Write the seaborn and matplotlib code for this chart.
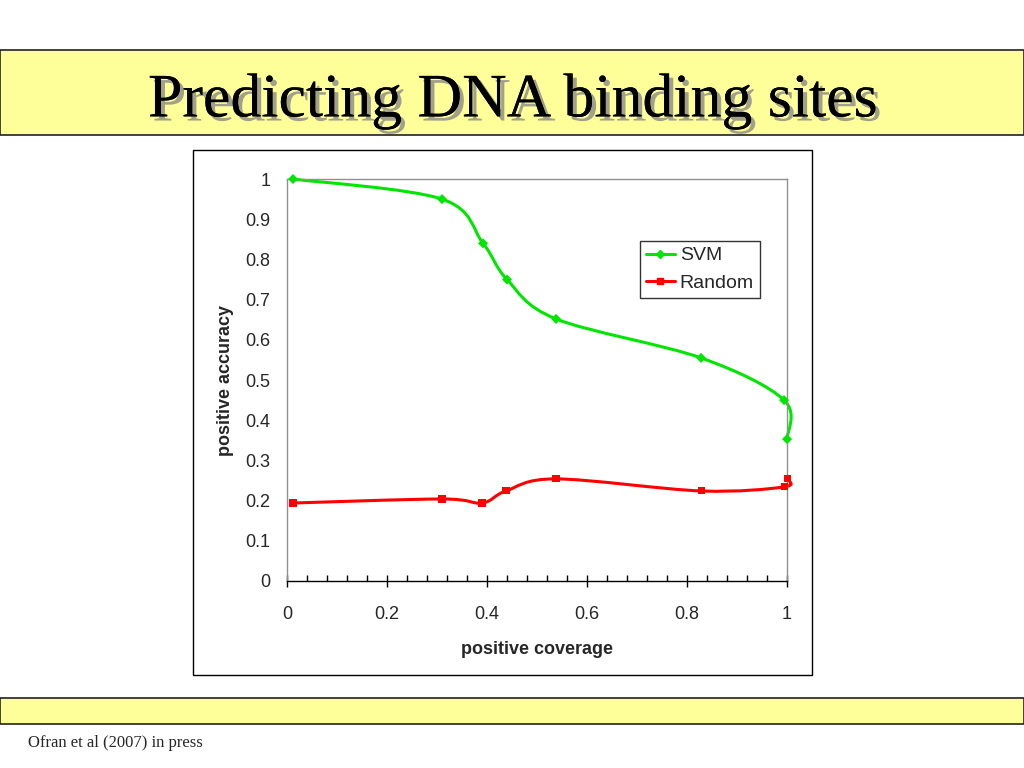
import numpy as np
import pandas as pd
import matplotlib
matplotlib.use("Agg")
import matplotlib.pyplot as plt
import seaborn as sns
from matplotlib.path import Path
from matplotlib.patches import PathPatch, Rectangle
from matplotlib.lines import Line2D
from matplotlib.ticker import MultipleLocator
import matplotlib.patheffects as pe

# values
svm_coverage = [0.012, 0.31, 0.392, 0.44, 0.538, 0.828, 0.994, 1.0]
svm_accuracy = [1.0, 0.95, 0.84, 0.75, 0.652, 0.555, 0.45, 0.353]
rand_coverage = [0.012, 0.31, 0.39, 0.438, 0.538, 0.828, 0.994, 1.0]
rand_accuracy = [0.194, 0.204, 0.194, 0.224, 0.254, 0.224, 0.234, 0.254]

x_ticks = [0, 0.2, 0.4, 0.6, 0.8, 1]
x_labels = ["0", "0.2", "0.4", "0.6", "0.8", "1"]
y_ticks = [0, 0.1, 0.2, 0.3, 0.4, 0.5, 0.6, 0.7, 0.8, 0.9, 1]
y_labels = ["0", "0.1", "0.2", "0.3", "0.4", "0.5", "0.6", "0.7", "0.8", "0.9", "1"]

GREEN = "#00e600"
RED = "#ff0000"

df = pd.concat([
    pd.DataFrame({"coverage": svm_coverage, "accuracy": svm_accuracy, "series": "SVM"}),
    pd.DataFrame({"coverage": rand_coverage, "accuracy": rand_accuracy, "series": "Random"}),
])

sns.set_style("white")
plt.rcParams["font.family"] = ["Liberation Sans", "DejaVu Sans"]


def smooth_path(xs, ys):
    # Excel-style smoothed line (Catmull-Rom as cubic Bezier)
    pts = np.column_stack([xs, ys])
    n = len(pts)
    verts = [pts[0]]
    codes = [Path.MOVETO]
    for i in range(n - 1):
        p0 = pts[max(i - 1, 0)]
        p1 = pts[i]
        p2 = pts[i + 1]
        p3 = pts[min(i + 2, n - 1)]
        verts += [p1 + (p2 - p0) / 6, p2 - (p3 - p1) / 6, p2]
        codes += [Path.CURVE4] * 3
    return Path(verts, codes)


fig = plt.figure(figsize=(10.24, 7.68), dpi=100)
fig.patch.set_facecolor("white")

# slide decorations (kept below the axes)
fig.add_artist(Rectangle((0, 0.8242), 1, 0.1107, transform=fig.transFigure,
                         facecolor="#ffff99", edgecolor="#222222", lw=1.2, zorder=-2))
fig.add_artist(Rectangle((0, 0.0573), 1, 0.0339, transform=fig.transFigure,
                         facecolor="#ffff99", edgecolor="#222222", lw=1.2, zorder=-2))
fig.add_artist(Rectangle((0.1885, 0.1211), 0.6045, 0.6836, transform=fig.transFigure,
                         facecolor="white", edgecolor="black", lw=1, zorder=-2))

fig.text(0.5, 0.868, "Predicting DNA binding sites", ha="center", va="center",
         fontsize=44.5, family="Liberation Serif", color="black",
         path_effects=[pe.withSimplePatchShadow(offset=(3, -3), shadow_rgbFace="#888888", alpha=0.8),
                       pe.Normal()])
fig.text(0.027, 0.033, "Ofran et al (2007) in press", ha="left", va="center",
         fontsize=12, family="Liberation Serif")

ax = fig.add_axes([0.2803, 0.2435, 0.4883, 0.5234])
ax.set_zorder(2)
ax.set_facecolor("white")

for xs, ys, c in [(svm_coverage, svm_accuracy, GREEN), (rand_coverage, rand_accuracy, RED)]:
    ax.add_patch(PathPatch(smooth_path(xs, ys), facecolor="none", edgecolor=c,
                           lw=2.2, clip_on=False, zorder=2))

sns.scatterplot(data=df, x="coverage", y="accuracy", hue="series", style="series",
                palette={"SVM": GREEN, "Random": RED},
                markers={"SVM": "D", "Random": "s"},
                s=26, linewidth=0, legend=False, ax=ax, zorder=3, clip_on=False)

ax.set_xlim(0, 1)
ax.set_ylim(0, 1)
ax.set_xticks(x_ticks)
ax.set_xticklabels(x_labels)
ax.set_yticks(y_ticks)
ax.set_yticklabels(y_labels)
ax.xaxis.set_minor_locator(MultipleLocator(0.04))
ax.tick_params(axis="x", which="major", direction="inout", length=8, width=1,
               color="black", labelsize=13, pad=14, bottom=True)
ax.tick_params(axis="x", which="minor", direction="in", length=4, width=1,
               color="black", bottom=True)
ax.tick_params(axis="y", length=0, labelsize=13, pad=12)

for side in ["top", "right", "left"]:
    ax.spines[side].set_color("#909090")
    ax.spines[side].set_linewidth(1)
ax.spines["bottom"].set_color("black")
ax.spines["bottom"].set_linewidth(1)

ax.set_xlabel("positive coverage", fontsize=13, fontweight="bold", labelpad=13)
ax.set_ylabel("positive accuracy", fontsize=13, fontweight="bold", labelpad=8)

handles = [Line2D([], [], color=GREEN, lw=2.2, marker="D", markersize=4),
           Line2D([], [], color=RED, lw=2.2, marker="s", markersize=5)]
leg = fig.legend(handles, ["SVM", "Random"], loc="upper left",
                 bbox_to_anchor=(0.625, 0.6862), frameon=True, fancybox=False,
                 edgecolor="black", fontsize=14, handlelength=1.5,
                 borderpad=0.3, labelspacing=0.5, handletextpad=0.25,
                 borderaxespad=0)
leg.set_zorder(5)
leg.get_frame().set_linewidth(1)

fig.savefig("out.png", dpi=100)
